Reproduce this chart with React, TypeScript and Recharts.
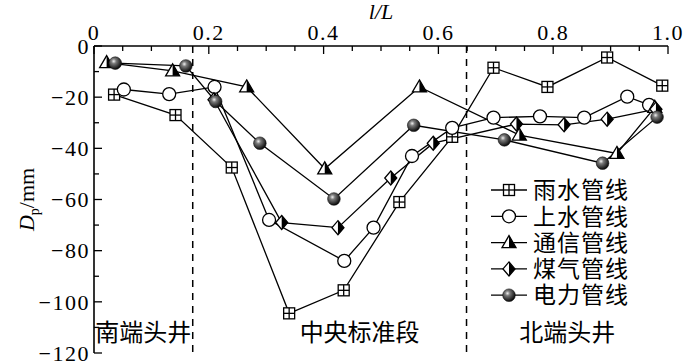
import React from 'react';
import { LineChart, Line, XAxis, YAxis, ReferenceLine, ReferenceArea, Legend } from 'recharts';

// l/L positions and settlement Dp (mm)
const rainX = [0.035, 0.142, 0.24, 0.34, 0.435, 0.532, 0.624, 0.696, 0.79, 0.894, 0.99];
const rainY = [-19, -27, -47.5, -104.5, -95.5, -61, -35.5, -8.5, -16, -4.5, -15.5];
const waterX = [0.052, 0.131, 0.21, 0.305, 0.436, 0.487, 0.554, 0.624, 0.696, 0.777, 0.854, 0.929, 0.967];
const waterY = [-17, -18.8, -16, -68, -84, -71, -43, -32, -28, -27.5, -28, -19.8, -23];
const telecomX = [0.022, 0.137, 0.266, 0.402, 0.567, 0.741, 0.911, 0.977];
const telecomY = [-6.5, -9.7, -16, -48, -16, -34.8, -42, -24];
const gasX = [0.209, 0.327, 0.425, 0.517, 0.591, 0.736, 0.819, 0.894, 0.979];
const gasY = [-21, -69, -71, -51.6, -38, -30.5, -30.8, -28.6, -24.7];
const powerX = [0.037, 0.16, 0.212, 0.289, 0.418, 0.557, 0.715, 0.886, 0.981];
const powerY = [-6.7, -7.8, -21.7, -38, -59.8, -31, -36.7, -45.8, -27.8];

const seriesNames = ['雨水管线', '上水管线', '通信管线', '煤气管线', '电力管线'];
const zoneNames = ['南端头井', '中央标准段', '北端头井'];
const zoneEdges = [0.172, 0.649];

const xTicks = [0, 0.05, 0.1, 0.15, 0.2, 0.25, 0.3, 0.35, 0.4, 0.45, 0.5, 0.55, 0.6, 0.65, 0.7, 0.75, 0.8, 0.85, 0.9, 0.95, 1];
const xMajor = [0, 0.2, 0.4, 0.6, 0.8, 1];
const yTicks = [-120, -110, -100, -90, -80, -70, -60, -50, -40, -30, -20, -10, 0];
const yMajor = [-120, -100, -80, -60, -40, -20, 0];

const zip = (xs: number[], ys: number[]) => xs.map((x, i) => ({ x, y: ys[i] }));
const rainData = zip(rainX, rainY);
const waterData = zip(waterX, waterY);
const telecomData = zip(telecomX, telecomY);
const gasData = zip(gasX, gasY);
const powerData = zip(powerX, powerY);

const SERIF = '"Liberation Serif", "DejaVu Serif", serif';
const CJK = '"Noto Sans CJK SC", sans-serif';
const SW = 1.3;

const isMajor = (list: number[], v: number) => list.some((m) => Math.abs(m - v) < 1e-6);
const fmtX = (v: number) => (v === 0 ? '0' : v.toFixed(1));
const fmtY = (v: number) => (v === 0 ? '0' : '\u2212' + Math.abs(v));

const TopTick = (p: any) => {
  const major = isMajor(xMajor, p.payload.value);
  return (
    <g>
      <line x1={p.x} y1={p.y} x2={p.x} y2={p.y + (major ? 8 : 5)} stroke="#000" strokeWidth={SW} />
      {major && (
        <text x={p.x} y={p.y - 6} textAnchor="middle" fontFamily={SERIF} fontSize={22} letterSpacing={1.5} fill="#000">
          {fmtX(p.payload.value)}
        </text>
      )}
    </g>
  );
};

const BottomTick = (p: any) => {
  const major = isMajor(xMajor, p.payload.value);
  return <line x1={p.x} y1={p.y} x2={p.x} y2={p.y - (major ? 8 : 5)} stroke="#000" strokeWidth={SW} />;
};

const LeftTick = (p: any) => {
  const major = isMajor(yMajor, p.payload.value);
  return (
    <g>
      <line x1={p.x} y1={p.y} x2={p.x + (major ? 8 : 5)} y2={p.y} stroke="#000" strokeWidth={SW} />
      {major && (
        <text x={p.x - 4} y={p.y} dy="0.35em" textAnchor="end" fontFamily={SERIF} fontSize={22} letterSpacing={1.5} fill="#000">
          {fmtY(p.payload.value)}
        </text>
      )}
    </g>
  );
};

const RightTick = (p: any) => {
  const major = isMajor(yMajor, p.payload.value);
  return <line x1={p.x} y1={p.y} x2={p.x - (major ? 8 : 5)} y2={p.y} stroke="#000" strokeWidth={SW} />;
};

// markers
const RainMark = ({ cx, cy }: { cx: number; cy: number }) => (
  <g>
    <rect x={cx - 5.5} y={cy - 5.5} width={11} height={11} fill="#fff" stroke="#000" strokeWidth={SW} />
    <line x1={cx - 5.5} y1={cy} x2={cx + 5.5} y2={cy} stroke="#000" strokeWidth={SW} />
    <line x1={cx} y1={cy - 5.5} x2={cx} y2={cy + 5.5} stroke="#000" strokeWidth={SW} />
  </g>
);
const WaterMark = ({ cx, cy }: { cx: number; cy: number }) => (
  <circle cx={cx} cy={cy} r={6.5} fill="#fff" stroke="#000" strokeWidth={SW} />
);
const TelecomMark = ({ cx, cy }: { cx: number; cy: number }) => (
  <g>
    <polygon points={`${cx},${cy - 7} ${cx + 7},${cy + 5} ${cx - 7},${cy + 5}`} fill="#fff" stroke="#000" strokeWidth={SW} />
    <polygon points={`${cx},${cy - 7} ${cx + 7},${cy + 5} ${cx},${cy + 5}`} fill="#000" />
  </g>
);
const GasMark = ({ cx, cy }: { cx: number; cy: number }) => (
  <g>
    <polygon points={`${cx},${cy - 7} ${cx + 6},${cy} ${cx},${cy + 7} ${cx - 6},${cy}`} fill="#fff" stroke="#000" strokeWidth={SW} />
    <polygon points={`${cx},${cy - 7} ${cx + 6},${cy} ${cx},${cy + 7}`} fill="#000" />
  </g>
);
const PowerMark = ({ cx, cy }: { cx: number; cy: number }) => (
  <circle cx={cx} cy={cy} r={6.3} fill="url(#sphere)" stroke="#111" strokeWidth={0.6} />
);

const marks = [RainMark, WaterMark, TelecomMark, GasMark, PowerMark];
const datasets = [rainData, waterData, telecomData, gasData, powerData];

const dotFor = (Mark: any, name: string) => (p: any) => (
  <Mark key={`${name}-${p.index}`} cx={p.cx} cy={p.cy} />
);

const LegendBox = () => (
  <svg width={160} height={140} style={{ overflow: 'visible' }}>
    {seriesNames.map((n, i) => {
      const Mark = marks[i];
      const y = 12 + i * 26.3;
      return (
        <g key={n}>
          <line x1={6} y1={y} x2={42} y2={y} stroke="#000" strokeWidth={SW} />
          <Mark cx={24} cy={y} />
          <text x={48} y={y} dy="0.36em" fontFamily={CJK} fontSize={23} letterSpacing={1} fill="#000">
            {n}
          </text>
        </g>
      );
    })}
  </svg>
);

const YLabel = (p: any) => {
  const vb = p.viewBox;
  const cx = vb.x + 34;
  const cy = vb.y + vb.height / 2;
  return (
    <text transform={`translate(${cx},${cy}) rotate(-90)`} textAnchor="middle" fontFamily={SERIF} fontSize={22} fill="#000">
      <tspan fontStyle="italic">D</tspan>
      <tspan fontSize={14} dy={5}>p</tspan>
      <tspan dy={-5}>/mm</tspan>
    </text>
  );
};

const XLabel = (p: any) => {
  const vb = p.viewBox;
  return (
    <text x={vb.x + vb.width / 2} y={vb.y + 19} textAnchor="middle" fontFamily={SERIF} fontSize={22} fontStyle="italic" fill="#000">
      l/L
    </text>
  );
};

const zoneLabel = (value: string, dx: number) => ({
  value,
  position: 'insideBottom' as const,
  offset: 12,
  dx,
  fontSize: 24,
  fontFamily: CJK,
  fill: '#000',
});

export default function App() {
  return (
    <div style={{ position: 'absolute', left: 0, top: 0, width: 700, height: 361, background: '#fff' }}>
      <LineChart width={700} height={361} margin={{ top: 0, right: 32, bottom: 8, left: 0 }}>
        <defs>
          <radialGradient id="sphere" cx="38%" cy="35%" r="65%">
            <stop offset="0%" stopColor="#f0f0f0" />
            <stop offset="30%" stopColor="#7a7a7a" />
            <stop offset="100%" stopColor="#0a0a0a" />
          </radialGradient>
        </defs>
        <XAxis
          xAxisId={0}
          type="number"
          dataKey="x"
          orientation="top"
          domain={[0, 1]}
          ticks={xTicks}
          interval={0}
          height={46}
          tickSize={0}
          tickMargin={0}
          tickLine={false}
          tick={<TopTick />}
          axisLine={{ stroke: '#000', strokeWidth: 1.6 }}
          label={<XLabel />}
        />
        <XAxis
          xAxisId="b"
          type="number"
          dataKey="x"
          orientation="bottom"
          domain={[0, 1]}
          ticks={xTicks}
          interval={0}
          height={0}
          tickSize={0}
          tickMargin={0}
          tickLine={false}
          tick={<BottomTick />}
          axisLine={{ stroke: '#000', strokeWidth: 1.6 }}
          allowDataOverflow
        />
        <YAxis
          yAxisId={0}
          type="number"
          domain={[-120, 0]}
          ticks={yTicks}
          interval={0}
          width={94}
          tickSize={0}
          tickMargin={0}
          tickLine={false}
          tick={<LeftTick />}
          axisLine={{ stroke: '#000', strokeWidth: 1.6 }}
          label={<YLabel />}
        />
        <YAxis
          yAxisId="r"
          orientation="right"
          type="number"
          domain={[-120, 0]}
          ticks={yTicks}
          interval={0}
          width={0}
          tickSize={0}
          tickMargin={0}
          tickLine={false}
          tick={<RightTick />}
          axisLine={{ stroke: '#000', strokeWidth: 1.6 }}
          allowDataOverflow
        />
        <ReferenceArea x1={0} x2={zoneEdges[0]} fill="none" fillOpacity={0} label={zoneLabel(zoneNames[0], 0)} />
        <ReferenceArea x1={zoneEdges[0]} x2={zoneEdges[1]} fill="none" fillOpacity={0} label={zoneLabel(zoneNames[1], 30)} />
        <ReferenceArea x1={zoneEdges[1]} x2={1} fill="none" fillOpacity={0} label={zoneLabel(zoneNames[2], 0)} />
        {zoneEdges.map((e) => (
          <ReferenceLine key={e} x={e} stroke="#000" strokeWidth={1.5} strokeDasharray="7 6" />
        ))}
        {datasets.map((d, i) => (
          <Line
            key={seriesNames[i]}
            name={seriesNames[i]}
            data={d}
            dataKey="y"
            type="linear"
            stroke="#000"
            strokeWidth={SW}
            dot={dotFor(marks[i], seriesNames[i])}
            activeDot={false}
            isAnimationActive={false}
          />
        ))}
        <Legend
          layout="horizontal"
          verticalAlign="middle"
          align="center"
          content={<LegendBox />}
          wrapperStyle={{ left: 485, top: 178, width: 160, height: 140 }}
        />
      </LineChart>
    </div>
  );
}
